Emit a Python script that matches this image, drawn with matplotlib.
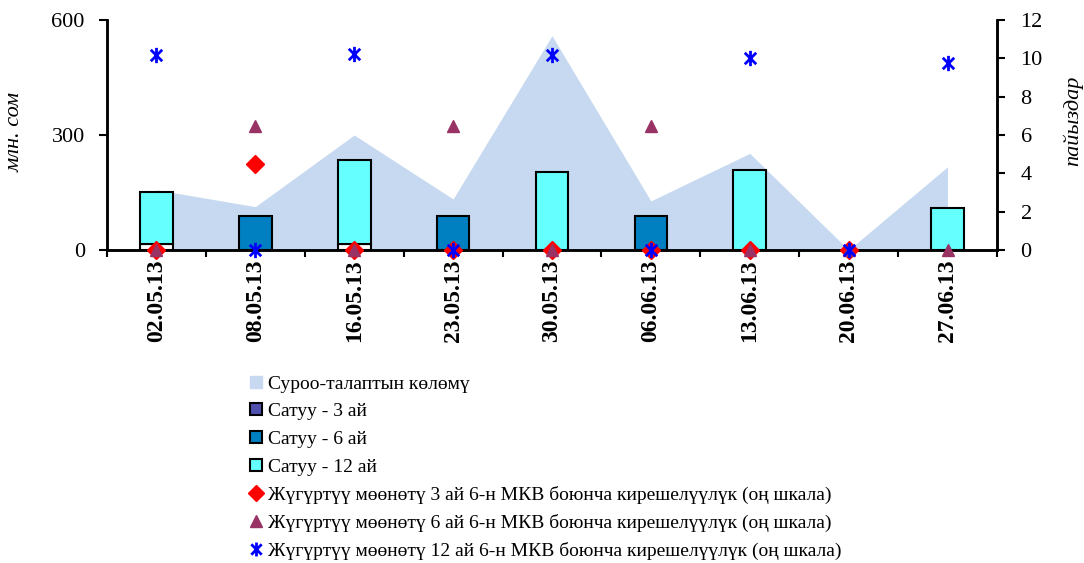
import matplotlib
matplotlib.use("Agg")
import matplotlib.pyplot as plt
import numpy as np
from matplotlib.path import Path
from matplotlib.lines import Line2D

dates = ["02.05.13", "08.05.13", "16.05.13", "23.05.13", "30.05.13",
         "06.06.13", "13.06.13", "20.06.13", "27.06.13"]
demand = [157, 113, 300, 133, 559, 128, 252, 0, 217]
sale_3m = [15, 0, 15, 0, 0, 0, 0, 0, 0]
sale_6m = [0, 89, 0, 89, 0, 89, 0, 0, 0]
sale_12m = [137, 0, 220, 0, 204, 0, 209, 0, 110]
yield_3m = [0, 4.5, 0, 0, 0, 0, 0, 0, np.nan]
yield_6m = [0, 6.45, 0, 6.45, 0, 6.45, 0, 0, 0]
yield_12m = [10.15, 0, 10.25, 0, 10.15, 0, 10.0, 0, 9.75]

labels = ["Суроо-талаптын көлөмү", "Сатуу - 3 ай", "Сатуу - 6 ай", "Сатуу - 12 ай",
          "Жүгүртүү мөөнөтү 3 ай 6-н МКВ боюнча кирешелүүлүк (оң шкала)",
          "Жүгүртүү мөөнөтү 6 ай 6-н МКВ боюнча кирешелүүлүк (оң шкала)",
          "Жүгүртүү мөөнөтү 12 ай 6-н МКВ боюнча кирешелүүлүк (оң шкала)"]

plt.rcParams['font.family'] = ['Liberation Serif', 'DejaVu Serif']

c_area = "#C6D9F0"
c_6m = "#0080C0"
c_12m = "#66FFFF"
c_tri = "#993366"

star = Path([(0, -1), (0, 1), (-0.75, -0.75), (0.75, 0.75), (-0.75, 0.75), (0.75, -0.75)],
            [Path.MOVETO, Path.LINETO, Path.MOVETO, Path.LINETO, Path.MOVETO, Path.LINETO])

fig = plt.figure(figsize=(10.84, 5.63), dpi=100)
ax = fig.add_axes([0.0987, 0.556, 0.821, 0.4085])
ax2 = ax.twinx()
ax.set_zorder(1)
ax2.set_zorder(2)
ax.patch.set_visible(False)

x = np.arange(len(dates))
ax.fill_between(x, demand, 0, color=c_area, lw=0, zorder=1)
w = 0.33
b3 = np.array(sale_3m)
b6 = np.array(sale_6m)
b12 = np.array(sale_12m)
m3 = b3 > 0
ax.bar(x[m3], b3[m3], w, color="white", edgecolor="black", lw=1.5, zorder=2)
m6 = b6 > 0
ax.bar(x[m6], b6[m6], w, bottom=b3[m6], color=c_6m, edgecolor="black", lw=1.5, zorder=2)
m12 = b12 > 0
ax.bar(x[m12], b12[m12], w, bottom=(b3 + b6)[m12], color=c_12m, edgecolor="black", lw=1.5, zorder=2)

ax2.plot(x, yield_3m, ls="none", marker="D", ms=9, color="red", zorder=3, clip_on=False)
ax2.plot(x, yield_6m, ls="none", marker="^", ms=9, color=c_tri, zorder=4, clip_on=False)
ax2.plot(x, yield_12m, ls="none", marker=star, ms=11, mew=2, color="blue", mfc="none", zorder=5, clip_on=False)

ax.set_xlim(-0.5, len(dates) - 0.5)
ax.set_ylim(0, 600)
ax2.set_ylim(0, 12)
ax.set_yticks([0, 300, 600])
ax2.set_yticks(range(0, 13, 2))

ax.set_xticks(x)
ax.set_xticklabels(dates, rotation=90, fontsize=17, fontweight="bold")
ax.set_xticks(np.arange(-0.5, len(dates), 1), minor=True)
ax.tick_params(axis="x", which="major", length=0, pad=7)
ax.tick_params(axis="x", which="minor", length=5, width=1.5, direction="out")
ax.tick_params(axis="y", length=6, width=1.5, labelsize=16, pad=10)
ax2.tick_params(axis="y", length=6, width=1.5, labelsize=16, pad=11)

for a in (ax, ax2):
    a.spines["top"].set_visible(False)
    for s in ("left", "right", "bottom"):
        a.spines[s].set_linewidth(1.8)

ax.set_ylabel("млн. сом", fontsize=16, style="italic")
ax2.set_ylabel("пайыздар", fontsize=16, style="italic")
ax.yaxis.set_label_coords(-0.092, 0.513)
ax2.yaxis.set_label_coords(1.074, 0.561)

handles = [
    Line2D([], [], ls="none", marker="s", ms=8, color=c_area),
    Line2D([], [], ls="none", marker="s", ms=8, mfc="#5050B0", mec="black", mew=1.5),
    Line2D([], [], ls="none", marker="s", ms=8, mfc=c_6m, mec="black", mew=1.5),
    Line2D([], [], ls="none", marker="s", ms=8, mfc=c_12m, mec="black", mew=1.5),
    Line2D([], [], ls="none", marker="D", ms=8, color="red"),
    Line2D([], [], ls="none", marker="^", ms=9, color=c_tri),
    Line2D([], [], ls="none", marker=star, ms=10, mew=2, color="blue", mfc="none"),
]
fig.legend(handles, labels, loc="upper left", bbox_to_anchor=(0.229, 0.334),
           frameon=False, fontsize=14, handlelength=0.8, handletextpad=0.2,
           labelspacing=0.52, borderaxespad=0, borderpad=0)

fig.savefig("out.png", dpi=100)
